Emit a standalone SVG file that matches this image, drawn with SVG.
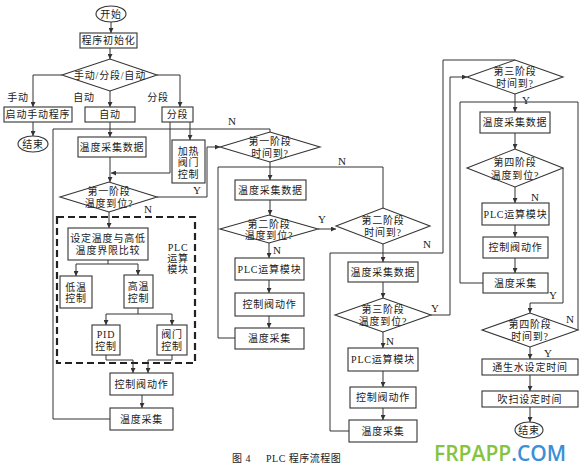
<svg xmlns="http://www.w3.org/2000/svg" width="585" height="470" viewBox="0 0 585 470">
<defs>
<marker id="a" viewBox="0 0 6 6" refX="6" refY="3" markerWidth="5" markerHeight="5" orient="auto" markerUnits="userSpaceOnUse"><path d="M0,0 L6,3 L0,6 z" fill="#333"/></marker>
<style>
.b{fill:#fff;stroke:#333;stroke-width:1.1}
.t{font-family:"Liberation Serif","Noto Sans CJK SC",serif;font-size:10px;fill:#1a1a1a;text-anchor:middle;dominant-baseline:central;letter-spacing:0.8px}
.lb{font-family:"Liberation Serif",serif;font-size:11px;fill:#1a1a1a;text-anchor:middle;dominant-baseline:central}
.l{fill:none;stroke:#333;stroke-width:1}
.m{marker-end:url(#a)}
</style>
</defs>
<rect width="585" height="470" fill="#fff"/>
<g id="connectors">
<path class="l m" d="M111,22 V33"/>
<path class="l m" d="M110,48 V59"/>
<path class="l m" d="M62,75 H33 V107"/>
<path class="l m" d="M110,91 V107"/>
<path class="l m" d="M157,75 H180 V107"/>
<path class="l m" d="M33,122 V136"/>
<path class="l m" d="M110,122 V137"/>
<path class="l" d="M270,132 V129 H53"/>
<path class="l" d="M110,419 H53 V129"/>
<path class="l m" d="M190,122 V140"/>
<path class="l m" d="M170,122 V173 H111"/>
<path class="l m" d="M110,157 V182"/>
<path class="l m" d="M157,197 H207 V147 H220"/>
<path class="l m" d="M109,212 V228"/>
<path class="l" d="M108,260 V264 M76,264 H138"/>
<path class="l m" d="M76,264 V276"/>
<path class="l m" d="M138,264 V275"/>
<path class="l" d="M138,308 V314 M106,314 H172"/>
<path class="l m" d="M106,314 V325"/>
<path class="l m" d="M172,314 V325"/>
<path class="l m" d="M106,355 V360 H133 V373"/>
<path class="l m" d="M172,355 V360 H148 V373"/>
<path class="l m" d="M142,395 V408"/>
<path class="l m" d="M270,162 V180"/>
<path class="l" d="M235,338 H218 V167 H270"/>
<path class="l" d="M383,208 V167 H270"/>
<path class="l m" d="M270,200 V215"/>
<path class="l m" d="M318,229 H336"/>
<path class="l m" d="M269,243 V258"/>
<path class="l m" d="M269,280 V293"/>
<path class="l m" d="M269,316 V328"/>
<path class="l m" d="M383,244 V262"/>
<path class="l" d="M349,431 H330 V253 H383"/>
<path class="l" d="M515,60 H443 V253 H383"/>
<path class="l m" d="M383,282 V298"/>
<path class="l m" d="M431,315 H450 V77 H467"/>
<path class="l m" d="M383,332 V348"/>
<path class="l m" d="M383,371 V387"/>
<path class="l m" d="M383,408 V420"/>
<path class="l m" d="M515,94 V112"/>
<path class="l" d="M483,283 H460 V102 H515"/>
<path class="l" d="M578,330 V102 H515"/>
<path class="l m" d="M515,133 V149"/>
<path class="l m" d="M515,187 V203"/>
<path class="l m" d="M515,225 V237"/>
<path class="l m" d="M515,258 V273"/>
<path class="l m" d="M563,168 V303 H530 V313"/>
<path class="l m" d="M530,347 V359"/>
<path class="l m" d="M530,375 V391"/>
<path class="l m" d="M530,407 V422"/>
</g>
<g id="labels">
<text class="t" x="18" y="97">手动</text>
<text class="t" x="84" y="97">自动</text>
<text class="t" x="158" y="97">分段</text>
<text class="lb" x="232" y="121">N</text>
<text class="lb" x="197" y="190">Y</text>
<text class="lb" x="148" y="209">N</text>
<text class="lb" x="322" y="219">Y</text>
<text class="lb" x="277" y="250">N</text>
<text class="lb" x="342" y="161">N</text>
<text class="lb" x="427" y="244">N</text>
<text class="lb" x="435" y="308">Y</text>
<text class="lb" x="390" y="341">N</text>
<text class="lb" x="526" y="100">Y</text>
<text class="lb" x="535" y="197">N</text>
<text class="lb" x="553" y="295">Y</text>
<text class="lb" x="570" y="319">N</text>
<text class="lb" x="548" y="353">Y</text>
</g>
<g id="start"><ellipse class="b" cx="111" cy="14" rx="15" ry="8"/><text class="t" x="111" y="14">开始</text></g>
<g id="init"><rect class="b" x="80" y="33" width="57" height="15"/><text class="t" x="108.5" y="40.5">程序初始化</text></g>
<g id="mode"><polygon class="b" points="62,75 110,59 157,75 110,91"/><text class="t" x="110" y="75">手动/分段/自动</text></g>
<g id="manual"><rect class="b" x="4" y="107" width="68" height="15"/><text class="t" x="38" y="114.5">启动手动程序</text></g>
<g id="auto"><rect class="b" x="85" y="107" width="50" height="15"/><text class="t" x="110" y="114.5">自动</text></g>
<g id="seg"><rect class="b" x="162" y="107" width="31" height="15"/><text class="t" x="177.5" y="114.5">分段</text></g>
<g id="end1"><ellipse class="b" cx="33" cy="144" rx="15" ry="8"/><text class="t" x="33" y="144">结束</text></g>
<g id="collect1"><rect class="b" x="78" y="137" width="68" height="20"/><text class="t" x="112" y="147">温度采集数据</text></g>
<g id="heat"><rect class="b" x="172" y="140" width="33" height="43"/><text class="t" x="188.5" y="151">加热</text><text class="t" x="188.5" y="162.5">阀门</text><text class="t" x="188.5" y="174">控制</text></g>
<g id="d1"><polygon class="b" points="60,197 109,182 157,197 109,212"/><text class="t" x="109" y="191.5">第一阶段</text><text class="t" x="109" y="203.5">温度到位?</text></g>
<g id="plc-module"><rect x="57" y="217" width="138" height="146" fill="none" stroke="#222" stroke-width="2.2" stroke-dasharray="7 4"/>
<text class="t" x="178" y="247">PLC</text><text class="t" x="178" y="258">运算</text><text class="t" x="178" y="269">模块</text></g>
<g id="compare"><rect class="b" x="68" y="228" width="80" height="32"/><text class="t" x="108" y="238">设定温度与高低</text><text class="t" x="108" y="250">温度界限比较</text></g>
<g id="low"><rect class="b" x="60" y="276" width="32" height="32"/><text class="t" x="76" y="287">低温</text><text class="t" x="76" y="298">控制</text></g>
<g id="high"><rect class="b" x="124" y="275" width="29" height="33"/><text class="t" x="138.5" y="286.5">高温</text><text class="t" x="138.5" y="298">控制</text></g>
<g id="pid"><rect class="b" x="92" y="325" width="28" height="30"/><text class="t" x="106" y="334">PID</text><text class="t" x="106" y="346">控制</text></g>
<g id="valve"><rect class="b" x="157" y="325" width="30" height="30"/><text class="t" x="172" y="334">阀门</text><text class="t" x="172" y="346">控制</text></g>
<g id="act1"><rect class="b" x="110" y="373" width="63" height="22"/><text class="t" x="141.5" y="384">控制阀动作</text></g>
<g id="col1"><rect class="b" x="110" y="408" width="63" height="22"/><text class="t" x="141.5" y="419">温度采集</text></g>
<g id="t1"><polygon class="b" points="220,147 270,132 320,147 270,162"/><text class="t" x="270" y="141">第一阶段</text><text class="t" x="270" y="153">时间到?</text></g>
<g id="collect2"><rect class="b" x="235" y="180" width="71" height="20"/><text class="t" x="270.5" y="190">温度采集数据</text></g>
<g id="d2"><polygon class="b" points="220,229 269,215 318,229 269,243"/><text class="t" x="269" y="224">第二阶段</text><text class="t" x="269" y="235">温度到位?</text></g>
<g id="plc2"><rect class="b" x="235" y="258" width="69" height="22"/><text class="t" x="269.5" y="269">PLC运算模块</text></g>
<g id="act2"><rect class="b" x="235" y="293" width="69" height="23"/><text class="t" x="269.5" y="304.5">控制阀动作</text></g>
<g id="col2"><rect class="b" x="235" y="328" width="69" height="21"/><text class="t" x="269.5" y="338.5">温度采集</text></g>
<g id="t2"><polygon class="b" points="336,226 383,208 430,226 383,244"/><text class="t" x="383" y="220">第二阶段</text><text class="t" x="383" y="232">时间到?</text></g>
<g id="collect3"><rect class="b" x="348" y="262" width="70" height="20"/><text class="t" x="383" y="272">温度采集数据</text></g>
<g id="d3"><polygon class="b" points="335,315 383,298 431,315 383,332"/><text class="t" x="383" y="309">第三阶段</text><text class="t" x="383" y="321">温度到位?</text></g>
<g id="plc3"><rect class="b" x="348" y="348" width="70" height="23"/><text class="t" x="383" y="359.5">PLC运算模块</text></g>
<g id="act3"><rect class="b" x="350" y="387" width="66" height="21"/><text class="t" x="383" y="397.5">控制阀动作</text></g>
<g id="col3"><rect class="b" x="349" y="420" width="68" height="22"/><text class="t" x="383" y="431">温度采集</text></g>
<g id="t3"><polygon class="b" points="467,77 515,60 563,77 515,94"/><text class="t" x="515" y="71">第三阶段</text><text class="t" x="515" y="83">时间到?</text></g>
<g id="collect4"><rect class="b" x="480" y="112" width="70" height="21"/><text class="t" x="515" y="122.5">温度采集数据</text></g>
<g id="d4"><polygon class="b" points="467,168 515,149 563,168 515,187"/><text class="t" x="515" y="162">第四阶段</text><text class="t" x="515" y="175">温度到位?</text></g>
<g id="plc4"><rect class="b" x="482" y="203" width="67" height="22"/><text class="t" x="515.5" y="214">PLC运算模块</text></g>
<g id="act4"><rect class="b" x="483" y="237" width="65" height="21"/><text class="t" x="515.5" y="247.5">控制阀动作</text></g>
<g id="col4"><rect class="b" x="483" y="273" width="65" height="20"/><text class="t" x="515.5" y="283">温度采集</text></g>
<g id="t4"><polygon class="b" points="482,330 530,313 578,330 530,347"/><text class="t" x="530" y="324">第四阶段</text><text class="t" x="530" y="336">时间到?</text></g>
<g id="water"><rect class="b" x="482" y="359" width="96" height="16"/><text class="t" x="530" y="367">通生水设定时间</text></g>
<g id="blow"><rect class="b" x="482" y="391" width="96" height="16"/><text class="t" x="530" y="399">吹扫设定时间</text></g>
<g id="end2"><ellipse class="b" cx="529" cy="430" rx="14" ry="8"/><text class="t" x="529" y="430">结束</text></g>
<g id="caption"><text class="t" y="458" style="text-anchor:start;letter-spacing:0.5px"><tspan x="232">图 4</tspan><tspan x="266">PLC 程序流程图</tspan></text></g>
<g id="watermark"><text x="434" y="461" style="font-family:'Open Sans',sans-serif;font-size:21px;font-weight:600"><tspan fill="#86c440">FRPAPP</tspan><tspan fill="#3b8fd6">.COM</tspan></text></g>
</svg>
